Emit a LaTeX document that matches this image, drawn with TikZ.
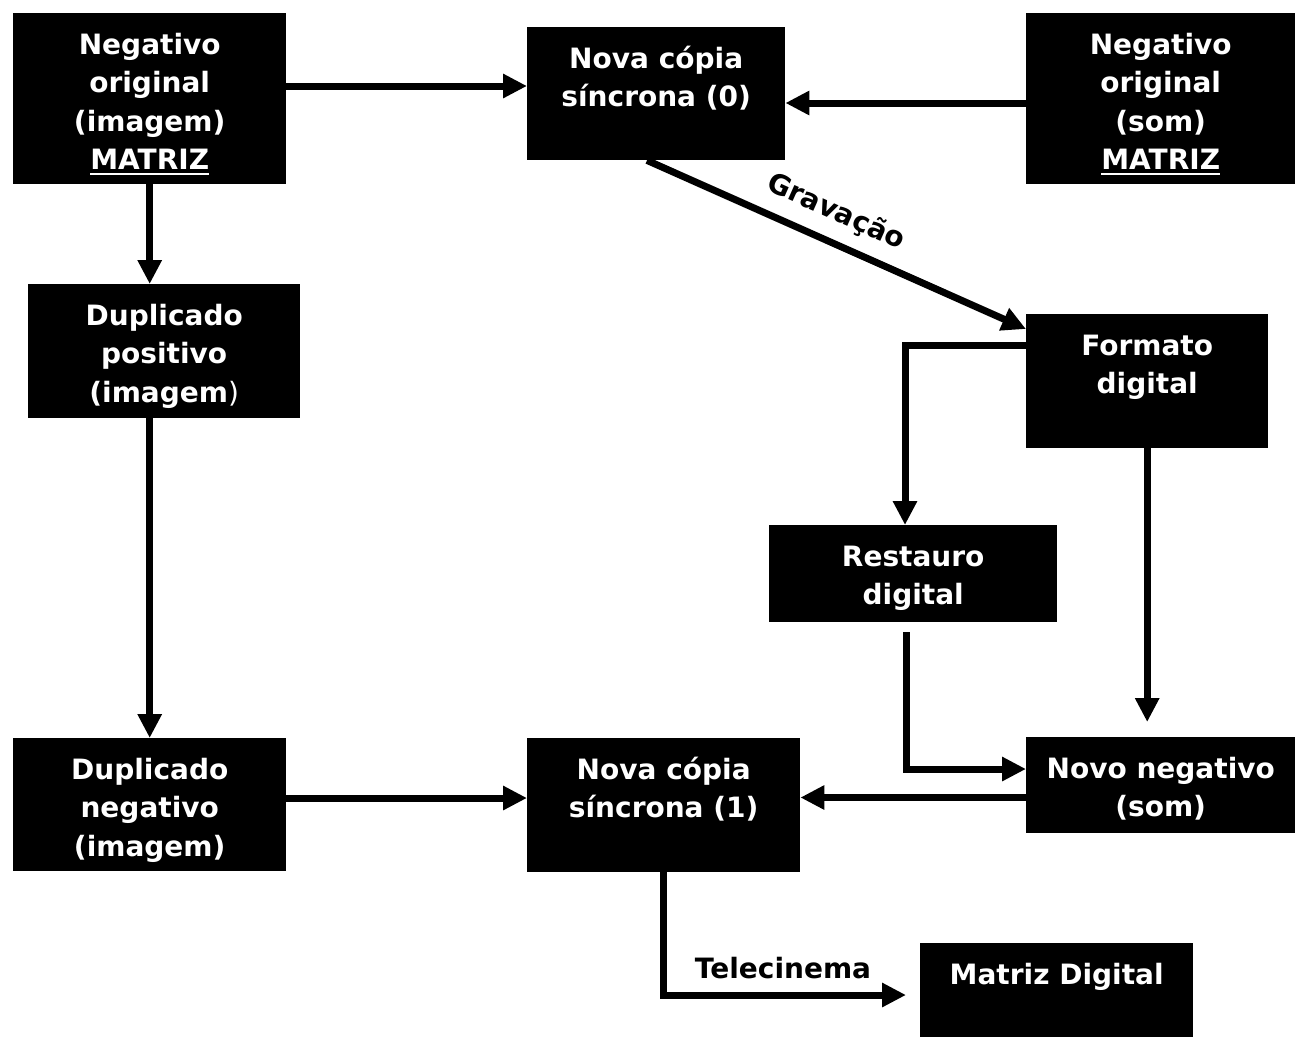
\documentclass[tikz,border=0pt]{standalone}
\usepackage{fontspec}
\setmainfont{DejaVu Sans}
\usetikzlibrary{arrows.meta}
\newsavebox\ulbox
\newcommand{\ulx}[1]{\sbox\ulbox{#1}\rlap{\rule[-5.5pt]{\wd\ulbox}{2pt}}\usebox\ulbox}
\tikzset{
  box/.style={fill=black, draw=none, inner sep=0pt, anchor=north west},
  txt/.style={text=white, font=\fontsize{28}{38.5}\selectfont\bfseries, align=center, inner sep=0pt, anchor=north},
  lbl/.style={text=black, font=\fontsize{28}{38.5}\selectfont\bfseries, inner sep=0pt},
  arr/.style={line width=7pt, -{Triangle[length=24pt,width=23pt]}},
}
\begin{document}
\begin{tikzpicture}[x=1pt,y=-1pt]
\useasboundingbox[fill=white] (0,0) rectangle (1295,1037);
% boxes
\node[box, minimum width=273pt, minimum height=171pt] (b1) at (13,13) {};
\node[box, minimum width=258pt, minimum height=133pt] (b2) at (527,27) {};
\node[box, minimum width=269pt, minimum height=171pt] (b3) at (1026,13) {};
\node[box, minimum width=272pt, minimum height=134pt] (dp) at (28,284) {};
\node[box, minimum width=242pt, minimum height=134pt] (fd) at (1026,314) {};
\node[box, minimum width=288pt, minimum height=97pt] (rd) at (769,525) {};
\node[box, minimum width=273pt, minimum height=133pt] (dn) at (13,738) {};
\node[box, minimum width=273pt, minimum height=134pt] (c1) at (527,738) {};
\node[box, minimum width=269pt, minimum height=96pt] (nn) at (1026,737) {};
\node[box, minimum width=273pt, minimum height=94pt] (md) at (920,943) {};
% texts
\node[txt] (t1) at ([yshift=-14pt]b1.north) {\rule{0pt}{27pt}Negativo\\original\\(imagem)\\\ulx{MATRIZ}};
\node[txt] (t2) at ([yshift=-14pt]b2.north) {\rule{0pt}{27pt}Nova cópia\\síncrona (0)};
\node[txt] (t3) at ([yshift=-14pt]b3.north) {\rule{0pt}{27pt}Negativo\\original\\(som)\\\ulx{MATRIZ}};
\node[txt] (t4) at ([yshift=-14pt]dp.north) {\rule{0pt}{27pt}Duplicado\\positivo\\(imagem{\mdseries )}};
\node[txt] (t5) at ([yshift=-14pt]fd.north) {\rule{0pt}{27pt}Formato\\digital};
\node[txt] (t6) at ([yshift=-14pt]rd.north) {\rule{0pt}{27pt}Restauro\\digital};
\node[txt] (t7) at ([yshift=-14pt]dn.north) {\rule{0pt}{27pt}Duplicado\\negativo\\(imagem)};
\node[txt] (t8) at ([yshift=-14pt]c1.north) {\rule{0pt}{27pt}Nova cópia\\síncrona (1)};
\node[txt] (t9) at ([yshift=-14pt]nn.north) {\rule{0pt}{27pt}Novo negativo\\(som)};
\node[txt] (t10) at ([yshift=-14pt]md.north) {\rule{0pt}{27pt}Matriz Digital};
% helper coordinates
\coordinate (y1) at (0,86);
\coordinate (y2) at (0,103);
\coordinate (k1) at (905,345);
\coordinate (k2) at (906,769);
\coordinate (y3) at (0,797.5);
\coordinate (y4) at (0,798);
\coordinate (k3) at (663.5,995);
% connectors
\draw[arr] (b1.east |- y1) -- (b2.west |- y1);
\draw[arr] (b3.west |- y2) -- (b2.east |- y2);
\draw[arr] (b1.south) -- (dp.north -| b1.south);
\draw[arr] (dp.south -| b1.south) -- (dn.north -| b1.south);
\draw[arr] ([xshift=120pt]b2.south west) -- ([yshift=-15pt]fd.north west);
\node[lbl, rotate=-24.1] (gv) at (836,212) {Gravação};
\draw[arr] (fd.west |- k1) -- (k1) -- (rd.north -| k1);
\draw[arr, shorten >=15pt] (fd.south) -- (fd.south |- nn.north);
\draw[arr, shorten <=10pt] (rd.south -| k2) -- (k2) -- (nn.west |- k2);
\draw[arr] (nn.west |- y3) -- (c1.east |- y3);
\draw[arr] (dn.east |- y4) -- (c1.west |- y4);
\draw[arr, shorten >=14pt] (c1.south -| k3) -- (k3) -- (md.west |- k3);
\node[lbl, anchor=base] (tc) at (783,978) {Telecinema};
\end{tikzpicture}
\end{document}
